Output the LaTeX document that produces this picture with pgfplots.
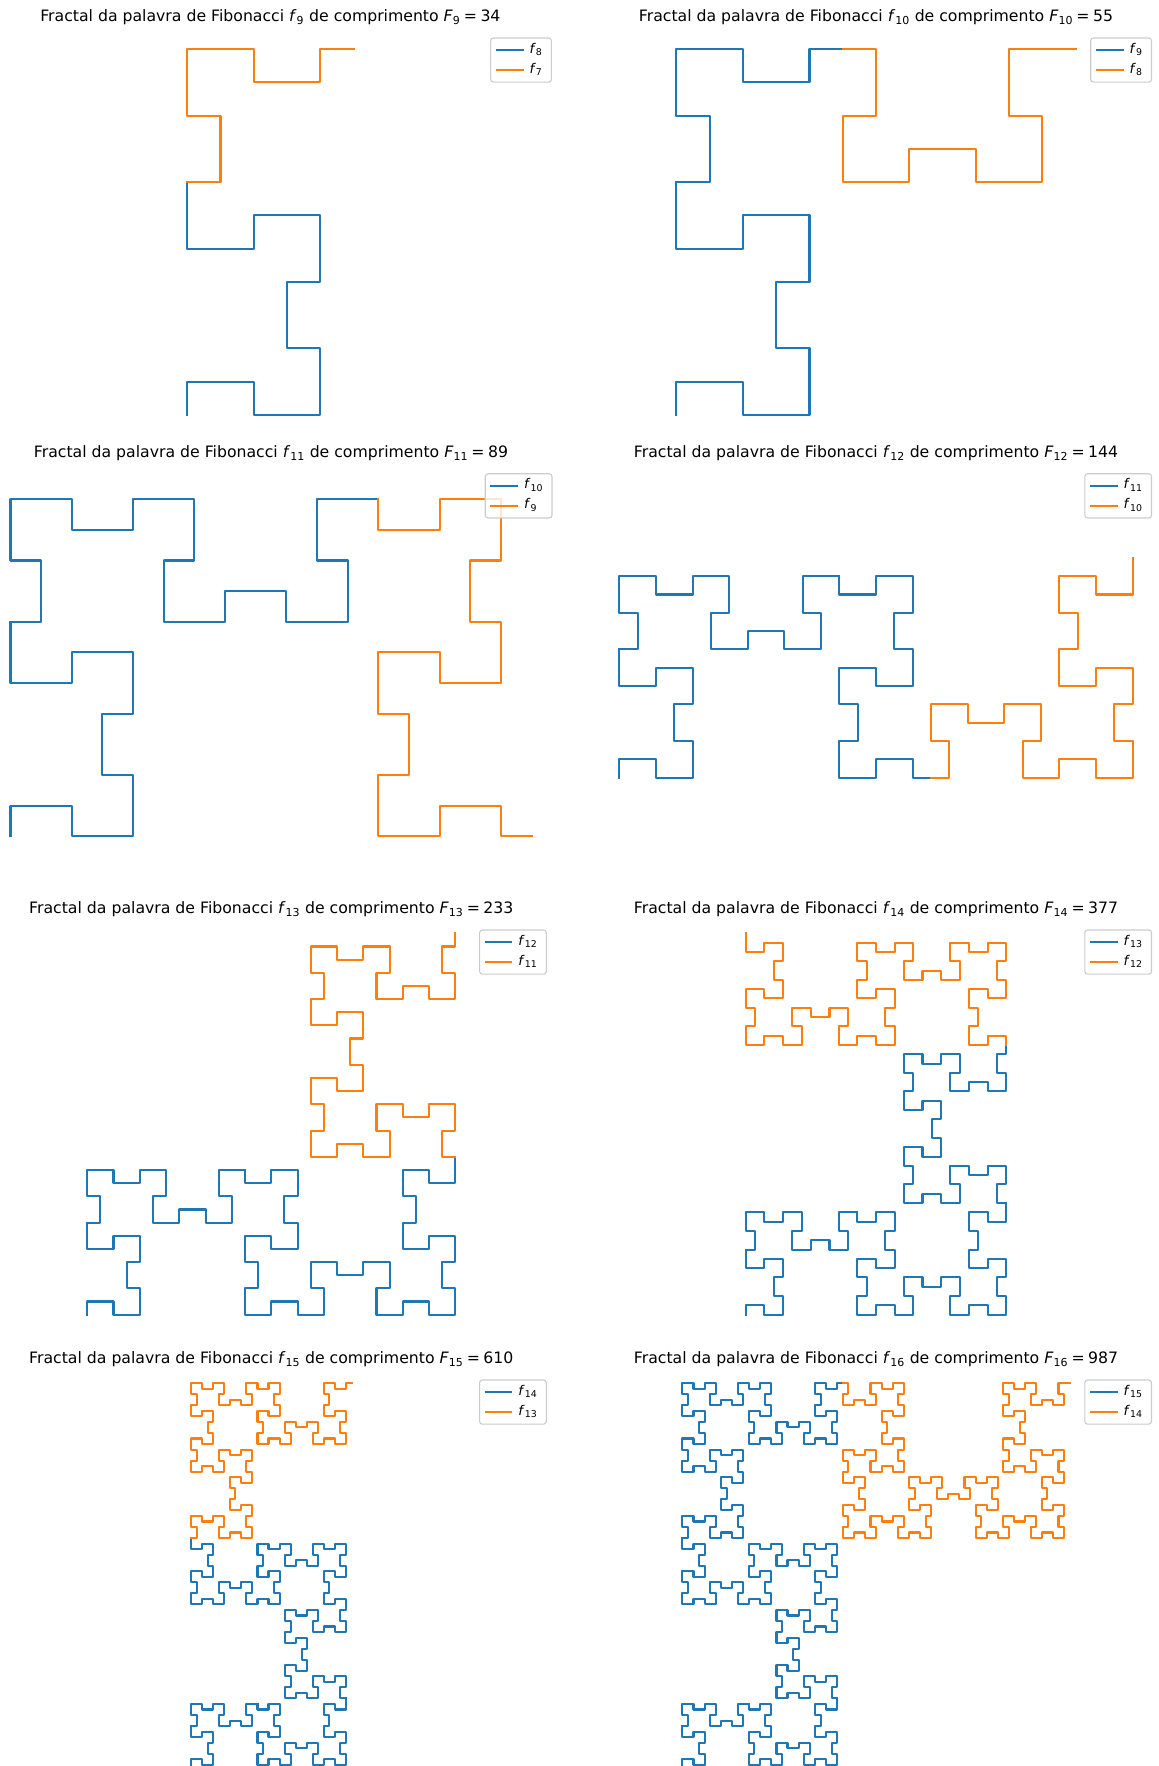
\documentclass[border=0pt]{standalone}
\usepackage{fontspec}
\setmainfont{DejaVu Sans}
\usepackage{pgfplots}
\usepackage{pgfplotstable}
\pgfplotsset{compat=1.18}

\definecolor{fibblue}{HTML}{1F77B4}
\definecolor{fiborange}{HTML}{FF7F0E}

% Corner points of the Fibonacci word fractal, split at the Fibonacci step counts
% steps 1-21
\pgfplotstableread{
x y
0 0
0 1
2 1
2 0
4 0
4 2
3 2
3 4
4 4
4 6
2 6
2 5
0 5
0 7
}\Tone
% steps 22-34
\pgfplotstableread{
x y
0 7
1 7
1 9
0 9
0 11
2 11
2 10
4 10
4 11
5 11
}\Ttwo
% steps 35-55
\pgfplotstableread{
x y
5 11
6 11
6 9
5 9
5 7
7 7
7 8
9 8
9 7
11 7
11 9
10 9
10 11
12 11
}\Tthree
% steps 56-89
\pgfplotstableread{
x y
12 11
12 10
14 10
14 11
16 11
16 9
15 9
15 7
16 7
16 5
14 5
14 6
12 6
12 4
13 4
13 2
12 2
12 0
14 0
14 1
16 1
16 0
17 0
}\Tfour
% steps 90-144
\pgfplotstableread{
x y
17 0
18 0
18 2
17 2
17 4
19 4
19 3
21 3
21 4
23 4
23 2
22 2
22 0
24 0
24 1
26 1
26 0
28 0
28 2
27 2
27 4
28 4
28 5
28 6
26 6
26 5
24 5
24 7
25 7
25 9
24 9
24 11
26 11
26 10
28 10
28 12
}\Tfive
% steps 145-233
\pgfplotstableread{
x y
28 12
27 12
27 14
28 14
28 16
26 16
26 15
24 15
24 16
22 16
22 14
23 14
23 12
21 12
21 13
19 13
19 12
17 12
17 14
18 14
18 16
17 16
17 17
17 18
19 18
19 17
21 17
21 19
20 19
20 21
21 21
21 23
19 23
19 22
17 22
17 24
18 24
18 26
17 26
17 28
19 28
19 27
21 27
21 28
23 28
23 26
22 26
22 24
24 24
24 25
26 25
26 24
28 24
28 26
27 26
27 28
28 28
28 29
}\Tsix
% steps 234-377
\pgfplotstableread{
x y
28 29
28 30
26 30
26 29
24 29
24 31
25 31
25 33
24 33
24 35
26 35
26 34
28 34
28 36
27 36
27 38
28 38
28 40
26 40
26 39
24 39
24 40
23 40
22 40
22 38
23 38
23 36
21 36
21 37
19 37
19 36
17 36
17 38
18 38
18 40
16 40
16 39
14 39
14 40
12 40
12 38
13 38
13 36
12 36
12 34
14 34
14 35
16 35
16 33
15 33
15 31
16 31
16 29
14 29
14 30
12 30
12 29
11 29
10 29
10 31
11 31
11 33
9 33
9 32
7 32
7 33
5 33
5 31
6 31
6 29
4 29
4 30
2 30
2 29
0 29
0 31
1 31
1 33
0 33
0 34
0 35
2 35
2 34
4 34
4 36
3 36
3 38
4 38
4 40
2 40
2 39
0 39
0 41
}\Tseven
% steps 378-610
\pgfplotstableread{
x y
0 41
1 41
1 43
0 43
0 45
2 45
2 44
4 44
4 45
6 45
6 43
5 43
5 41
7 41
7 42
9 42
9 41
11 41
11 43
10 43
10 45
11 45
11 46
11 47
9 47
9 46
7 46
7 48
8 48
8 50
7 50
7 52
9 52
9 51
11 51
11 53
10 53
10 55
11 55
11 57
9 57
9 56
7 56
7 57
5 57
5 55
6 55
6 53
4 53
4 54
2 54
2 53
0 53
0 55
1 55
1 57
0 57
0 58
0 59
2 59
2 58
4 58
4 60
3 60
3 62
4 62
4 64
2 64
2 63
0 63
0 65
1 65
1 67
0 67
0 69
2 69
2 68
4 68
4 69
5 69
6 69
6 67
5 67
5 65
7 65
7 66
9 66
9 65
11 65
11 67
10 67
10 69
12 69
12 68
14 68
14 69
16 69
16 67
15 67
15 65
16 65
16 63
14 63
14 64
12 64
12 62
13 62
13 60
12 60
12 58
14 58
14 59
16 59
16 58
17 58
18 58
18 60
17 60
17 62
19 62
19 61
21 61
21 62
23 62
23 60
22 60
22 58
24 58
24 59
26 59
26 58
28 58
28 60
27 60
27 62
28 62
28 64
26 64
26 63
24 63
24 65
25 65
25 67
24 67
24 69
26 69
26 68
28 68
28 69
29 69
}\Teight
% steps 611-987
\pgfplotstableread{
x y
29 69
30 69
30 67
29 67
29 65
31 65
31 66
33 66
33 65
35 65
35 67
34 67
34 69
36 69
36 68
38 68
38 69
40 69
40 67
39 67
39 65
40 65
40 64
40 63
38 63
38 64
36 64
36 62
37 62
37 60
36 60
36 58
38 58
38 59
40 59
40 57
39 57
39 55
40 55
40 53
38 53
38 54
36 54
36 53
34 53
34 55
35 55
35 57
33 57
33 56
31 56
31 57
29 57
29 55
30 55
30 53
29 53
29 52
29 51
31 51
31 52
33 52
33 50
32 50
32 48
33 48
33 46
31 46
31 47
29 47
29 45
30 45
30 43
29 43
29 41
31 41
31 42
33 42
33 41
34 41
35 41
35 43
34 43
34 45
36 45
36 44
38 44
38 45
40 45
40 43
39 43
39 41
41 41
41 42
43 42
43 41
45 41
45 43
44 43
44 45
45 45
45 47
43 47
43 46
41 46
41 48
42 48
42 50
41 50
41 52
43 52
43 51
45 51
45 52
46 52
47 52
47 50
46 50
46 48
48 48
48 49
50 49
50 48
52 48
52 50
51 50
51 52
53 52
53 51
55 51
55 52
57 52
57 50
56 50
56 48
57 48
57 46
55 46
55 47
53 47
53 45
54 45
54 43
53 43
53 41
55 41
55 42
57 42
57 41
58 41
59 41
59 43
58 43
58 45
60 45
60 44
62 44
62 45
64 45
64 43
63 43
63 41
65 41
65 42
67 42
67 41
69 41
69 43
68 43
68 45
69 45
69 46
69 47
67 47
67 46
65 46
65 48
66 48
66 50
65 50
65 52
67 52
67 51
69 51
69 53
68 53
68 55
69 55
69 57
67 57
67 56
65 56
65 57
63 57
63 55
64 55
64 53
62 53
62 54
60 54
60 53
58 53
58 55
59 55
59 57
58 57
58 58
58 59
60 59
60 58
62 58
62 60
61 60
61 62
62 62
62 64
60 64
60 63
58 63
58 65
59 65
59 67
58 67
58 69
60 69
60 68
62 68
62 69
63 69
64 69
64 67
63 67
63 65
65 65
65 66
67 66
67 65
69 65
69 67
68 67
68 69
70 69
}\Tnine

\newcommand{\fibtitle}[2]{Fractal da palavra de Fibonacci \textit{f}\textsubscript{#1} de comprimento \textit{F}\textsubscript{#1}\hspace{0.22em}=\hspace{0.22em}#2}
\newcommand{\fibleg}[1]{\textit{f}\textsubscript{#1}}

\pgfplotsset{
  fibaxis/.style={
    scale only axis, hide axis, clip=false, anchor=center,
    height=403bp,
    every axis title/.style={at={(0.5,1)}, anchor=base, yshift=9bp, inner sep=0pt,
      font=\fontsize{15.7bp}{19bp}\selectfont},
    legend cell align=left,
    legend style={at={(1,1)}, anchor=north east, xshift=-6.94bp, yshift=-6.94bp,
      draw=black!20, line width=1.1bp, rounded corners=2.8bp,
      fill=white, fill opacity=0.8, draw opacity=1, text opacity=1,
      font=\fontsize{13.4bp}{16bp}\selectfont,
      inner xsep=4bp, inner ysep=4.6bp, row sep=5bp,
      nodes={inner xsep=5bp, inner ysep=0bp, text height=10.5bp, text depth=4.5bp}},
    legend image code/.code={\draw[##1, line width=2.08bp, line cap=butt] (0bp,0bp) -- (27.8bp,0bp);},
  },
  fibline/.style={line width=2.08bp, line join=round, line cap=rect},
}

\begin{document}
\begin{tikzpicture}
\useasboundingbox (0,0) rectangle (1159bp,1766bp);

% f9
\begin{axis}[fibaxis, at={(270.4bp,1534bp)}, width=577bp,
  xmin=-6.171, xmax=11.171, ymin=-0.557, ymax=11.557, title={\fibtitle{9}{34}}]
\addplot[fibblue, fibline] table {\Tone}; \addlegendentry{\fibleg{8}}
\addplot[fiborange, fibline] table {\Ttwo}; \addlegendentry{\fibleg{7}}
\end{axis}

% f10
\begin{axis}[fibaxis, at={(876bp,1534bp)}, width=566bp,
  xmin=-2.506, xmax=14.506, ymin=-0.557, ymax=11.557, title={\fibtitle{10}{55}}]
\addplot[fibblue, fibline] table {\Tone}; \addlegendentry{\fibleg{9}}
\addplot[fibblue, fibline, forget plot] table {\Ttwo};
\addplot[fiborange, fibline] table {\Tthree}; \addlegendentry{\fibleg{8}}
\end{axis}

% f11
\begin{axis}[fibaxis, at={(271bp,1098.2bp)}, width=577bp,
  xmin=-0.913, xmax=17.913, ymin=-1.074, ymax=12.074, title={\fibtitle{11}{89}}]
\addplot[fibblue, fibline] table {\Tone}; \addlegendentry{\fibleg{10}}
\addplot[fibblue, fibline, forget plot] table {\Ttwo};
\addplot[fibblue, fibline, forget plot] table {\Tthree};
\addplot[fiborange, fibline] table {\Tfour}; \addlegendentry{\fibleg{9}}
\end{axis}

% f12
\begin{axis}[fibaxis, at={(876bp,1098.2bp)}, width=566bp,
  xmin=-1.439, xmax=29.439, ymin=-4.993, ymax=16.993, title={\fibtitle{12}{144}}]
\addplot[fibblue, fibline] table {\Tone}; \addlegendentry{\fibleg{11}}
\addplot[fibblue, fibline, forget plot] table {\Ttwo};
\addplot[fibblue, fibline, forget plot] table {\Tthree};
\addplot[fibblue, fibline, forget plot] table {\Tfour};
\addplot[fiborange, fibline] table {\Tfive}; \addlegendentry{\fibleg{10}}
\end{axis}

% f13
\begin{axis}[fibaxis, at={(271.3bp,642bp)}, width=565bp,
  xmin=-7.483, xmax=35.483, ymin=-0.823, ymax=29.823, title={\fibtitle{13}{233}}]
\addplot[fibblue, fibline] table {\Tone}; \addlegendentry{\fibleg{12}}
\addplot[fibblue, fibline, forget plot] table {\Ttwo};
\addplot[fibblue, fibline, forget plot] table {\Tthree};
\addplot[fibblue, fibline, forget plot] table {\Tfour};
\addplot[fibblue, fibline, forget plot] table {\Tfive};
\addplot[fiborange, fibline] table {\Tsix}; \addlegendentry{\fibleg{11}}
\end{axis}

% f14
\begin{axis}[fibaxis, at={(876bp,642bp)}, width=566bp,
  xmin=-16.430, xmax=44.430, ymin=-1.167, ymax=42.167, title={\fibtitle{14}{377}}]
\addplot[fibblue, fibline] table {\Tone}; \addlegendentry{\fibleg{13}}
\addplot[fibblue, fibline, forget plot] table {\Ttwo};
\addplot[fibblue, fibline, forget plot] table {\Tthree};
\addplot[fibblue, fibline, forget plot] table {\Tfour};
\addplot[fibblue, fibline, forget plot] table {\Tfive};
\addplot[fibblue, fibline, forget plot] table {\Tsix};
\addplot[fiborange, fibline] table {\Tseven}; \addlegendentry{\fibleg{12}}
\end{axis}

% f15
\begin{axis}[fibaxis, at={(271.3bp,192bp)}, width=565bp,
  xmin=-36.585, xmax=65.585, ymin=-1.938, ymax=70.938, title={\fibtitle{15}{610}}]
\addplot[fibblue, fibline] table {\Tone}; \addlegendentry{\fibleg{14}}
\addplot[fibblue, fibline, forget plot] table {\Ttwo};
\addplot[fibblue, fibline, forget plot] table {\Tthree};
\addplot[fibblue, fibline, forget plot] table {\Tfour};
\addplot[fibblue, fibline, forget plot] table {\Tfive};
\addplot[fibblue, fibline, forget plot] table {\Tsix};
\addplot[fibblue, fibline, forget plot] table {\Tseven};
\addplot[fiborange, fibline] table {\Teight}; \addlegendentry{\fibleg{13}}
\end{axis}

% f16
\begin{axis}[fibaxis, at={(876bp,192bp)}, width=566bp,
  xmin=-16.175, xmax=86.175, ymin=-1.938, ymax=70.938, title={\fibtitle{16}{987}}]
\addplot[fibblue, fibline] table {\Tone}; \addlegendentry{\fibleg{15}}
\addplot[fibblue, fibline, forget plot] table {\Ttwo};
\addplot[fibblue, fibline, forget plot] table {\Tthree};
\addplot[fibblue, fibline, forget plot] table {\Tfour};
\addplot[fibblue, fibline, forget plot] table {\Tfive};
\addplot[fibblue, fibline, forget plot] table {\Tsix};
\addplot[fibblue, fibline, forget plot] table {\Tseven};
\addplot[fibblue, fibline, forget plot] table {\Teight};
\addplot[fiborange, fibline] table {\Tnine}; \addlegendentry{\fibleg{14}}
\end{axis}
\end{tikzpicture}
\end{document}
